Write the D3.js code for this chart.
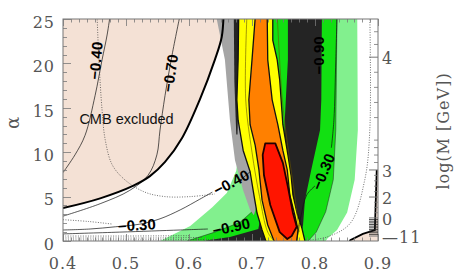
<!DOCTYPE html>
<html>
<head>
<meta charset="utf-8">
<script src="https://cdn.jsdelivr.net/npm/d3@7"></script>
<style>
body{margin:0;background:#fff}
svg{display:block}
</style>
</head>
<body>
<script>
// contour regions, [ns, alpha]
var cmbCurve = [[0.4,3.7],[0.459,4.8],[0.511,6.2],[0.538,7.3],[0.562,8.9],[0.589,11.6],[0.617,15.9],[0.641,20.4],[0.652,23.0],[0.655,26]]
var cmbRight = [[0.852,-0.5],[0.856,0.1],[0.876,0.8],[0.895,1.24],[0.898,8.0]]
var lightGreen = [[0.554,-0.5],[0.554,0],[0.602,1.7],[0.637,3.8],[0.660,5.4],[0.675,7.9],[0.681,11.4],[0.673,26],[0.867,26],[0.868,12.5],[0.863,6.9],[0.851,3.2],[0.835,1.24],[0.82,0.3],[0.812,-0.5]]
var brightGreen = [[0.597,-0.5],[0.597,0],[0.641,1.0],[0.681,2.1],[0.700,3.3],[0.710,5.7],[0.716,11.4],[0.719,26],[0.835,26],[0.833,12.5],[0.829,6.9],[0.817,3.3],[0.802,1.0],[0.789,0],[0.789,-0.5]]
var darkBand = [[0.757,26],[0.811,26],[0.810,15.9],[0.808,12.5],[0.794,8.0],[0.784,4.6],[0.781,1.8],[0.776,0],[0.776,-0.5],[0.622,-0.5],[0.622,0],[0.665,0.45],[0.710,1.35],[0.719,4.6],[0.751,10.2],[0.752,13.6],[0.757,20.4]]
var darkStrip = [[0.671,26],[0.681,26],[0.679,18],[0.677,12],[0.675,12],[0.672,18]]
var grayBand = [[0.644,26],[0.644,25],[0.657,20.4],[0.665,13.6],[0.673,9.1],[0.686,5.7],[0.697,3.5],[0.703,2.9],[0.710,4.6],[0.697,10.2],[0.684,15.9],[0.681,26]]
var yellow = [[0.679,26],[0.678,20.4],[0.676,15.9],[0.678,13.6],[0.686,10.2],[0.697,7.8],[0.703,5.2],[0.708,3.15],[0.716,1.24],[0.722,0],[0.722,-0.5],[0.784,-0.5],[0.784,0],[0.779,1.5],[0.771,3.3],[0.765,5.2],[0.762,7.4],[0.757,9.7],[0.749,13.1],[0.744,18.1],[0.740,20.4],[0.733,22.6],[0.733,26]]
var orange = [[0.706,26],[0.700,20.4],[0.695,15.9],[0.697,13.1],[0.705,10.8],[0.711,8.0],[0.716,4.6],[0.725,1.8],[0.735,0],[0.735,-0.5],[0.771,-0.5],[0.771,0],[0.773,1.24],[0.768,2.9],[0.760,5.2],[0.756,8.0],[0.749,10.2],[0.741,13.1],[0.732,15.9],[0.725,20.4],[0.724,26]]
var red = [[0.721,11.0],[0.737,11.0],[0.749,8.8],[0.757,6.1],[0.765,3.15],[0.771,1.6],[0.763,0.56],[0.756,0.23],[0.744,1.0],[0.729,4.05],[0.719,7.4],[0.717,9.7]]

// thin contour lines
var solidLines = [
  [[0.4,7.7],[0.419,9.7],[0.435,11.9],[0.451,16.4],[0.462,20.4],[0.470,23.2],[0.475,25.5]],
  [[0.4,2.8],[0.459,4.2],[0.506,5.7],[0.535,7.4],[0.549,9.7],[0.554,12.5],[0.562,16.4],[0.573,20.9],[0.586,25.5]],
  [[0.4,1.24],[0.443,1.35],[0.483,1.6],[0.522,1.9],[0.554,2.5],[0.586,3.5],[0.617,4.7],[0.637,5.5]],
  [[0.697,7.8],[0.684,7.0]],
  [[0.4,0.8],[0.49,1.0],[0.586,1.24],[0.630,1.35]],
  [[0.835,25.5],[0.833,20.4],[0.830,13.6],[0.826,10.5]],
  [[0.800,6.2],[0.787,5.2],[0.778,2.9],[0.771,0]]
]
var dottedLines = [
  [[0.454,25.5],[0.457,20.4],[0.462,14.75],[0.467,11.4],[0.478,8.6],[0.498,6.9],[0.530,5.5],[0.562,5.0],[0.602,5.0],[0.641,5.3]],
  [[0.4,2.4],[0.440,2.2],[0.479,1.9]],
  [[0.4,0.56],[0.50,0.56],[0.60,0.6]],
  [[0.4,0.34],[0.55,0.34],[0.62,0.4]],
  [[0.4,0.11],[0.65,0.15]],
  [[0.887,25.5],[0.887,12.5],[0.879,6.9],[0.856,2.0],[0.819,0.45],[0.792,0.11]]
]
var innerLines = [
  [[0.692,25.5],[0.690,16],[0.700,10],[0.712,5],[0.725,1],[0.735,0]],
  [[0.740,25.5],[0.748,16],[0.758,10],[0.768,5],[0.775,1]]
]
var labels = ["\u22120.40","\u22120.70","\u22120.40","\u22120.30","\u22120.90","\u22120.30","\u22120.90"]
var labelX = [0.452,0.570,0.667,0.517,0.667,0.813,0.806]
var labelY = [20.3,18.9,6.6,1.8,1.6,7.8,20.9]
var labelRot = [-85,-82,-28,-4,-12,-68,-90]

var xTicks = [0.4,0.5,0.6,0.7,0.8,0.9]
var yTicks = [0,5,10,15,20,25]
// right axis: log(M/GeV) against alpha
var logMKnots = [-11,0,2,3,3.5,4,4.3]
var logMAlpha = [0.56,2.6,4.95,8.0,12.2,20.7,25]
var logMLabels = [4,3,2,0,-11]
var logMMinor = [4.2,4.1,3.9,3.8,3.7,3.6,3.4,3.3,3.2,3.1,2.8,2.6,2.4,2.2,1.5,1,0.5,-1,-2,-3,-4,-5,-6,-7,-8,-9,-10]

var W=463,H=275
var L=63,R=378,T=19,B=241
var svg=d3.select("body").append("svg").attr("width",W).attr("height",H)
var x=d3.scaleLinear().domain([0.4,0.9]).range([L,R])
var y=d3.scaleLinear().domain([0,25]).range([B,T])
var m=d3.scaleLinear().domain(logMKnots).range(logMAlpha)

svg.append("clipPath").attr("id","clip").append("rect")
    .attr("x",L).attr("y",T).attr("width",R-L).attr("height",B-T)
var g=svg.append("g").attr("clip-path","url(#clip)")

var area=d3.line().x(function(d){return x(d[0])}).y(function(d){return y(d[1])}).curve(d3.curveCatmullRomClosed)
var poly=d3.line().x(function(d){return x(d[0])}).y(function(d){return y(d[1])}).curve(d3.curveLinearClosed)
var line=d3.line().x(function(d){return x(d[0])}).y(function(d){return y(d[1])}).curve(d3.curveCatmullRom)

// CMB excluded areas
g.append("path").attr("d",poly(cmbCurve.concat([[0.38,26],[0.38,3.5]]))).attr("fill","#f4e1d5")
g.append("path").attr("d",poly(cmbRight.concat([[0.92,8.0],[0.92,-1]]))).attr("fill","#f4e1d5")

function region(pts,fill,stroke,sw){
    g.append("path").attr("d",poly(pts)).attr("fill",fill)
        .attr("stroke",stroke||"none").attr("stroke-width",sw||0).attr("stroke-linejoin","round")
}
region(lightGreen,"#82f08e")
region(brightGreen,"#12e012","#222",0.5)
region(darkBand,"#242424")
region(grayBand,"#a5a5a5")
region(darkStrip,"#242424")
region(yellow,"#ffff00","#111",1.3)
region(orange,"#ff8000","#111",1.3)
region(red,"#ff1500","#220000",1.8)

innerLines.forEach(function(l){
    g.append("path").attr("d",line(l)).attr("fill","none").attr("stroke","#665500").attr("stroke-width",0.6)
})
solidLines.forEach(function(l){
    g.append("path").attr("d",line(l)).attr("fill","none").attr("stroke","#111").attr("stroke-width",0.7)
})
dottedLines.forEach(function(l){
    g.append("path").attr("d",line(l)).attr("fill","none").attr("stroke","#333").attr("stroke-width",0.7).attr("stroke-dasharray","1,1.5")
})
// thick CMB boundaries
g.append("path").attr("d",line(cmbCurve)).attr("fill","none").attr("stroke","#000").attr("stroke-width",2)
g.append("path").attr("d",d3.line().x(function(d){return x(d[0])}).y(function(d){return y(d[1])})(cmbRight)).attr("fill","none").attr("stroke","#000").attr("stroke-width",1.8)

g.append("text").attr("x",x(0.426)).attr("y",y(13.2)).text("CMB excluded")
    .attr("font-family","Liberation Sans, Arial, sans-serif").attr("font-size",14.5).attr("fill","#111")

labels.forEach(function(t,i){
    g.append("text").attr("transform","translate("+x(labelX[i])+","+y(labelY[i])+") rotate("+labelRot[i]+")")
        .attr("text-anchor","middle").attr("dy","0.36em")
        .attr("font-family","Liberation Sans, Arial, sans-serif").attr("font-weight","bold").attr("font-size",15)
        .attr("fill","#000").text(t)
})

// frame and ticks
var axc="#777"
svg.append("rect").attr("x",L).attr("y",T).attr("width",R-L).attr("height",B-T)
    .attr("fill","none").attr("stroke",axc).attr("stroke-width",1)
var xMinor=d3.range(0.4,0.9001,0.0125)
svg.selectAll(".xt").data(xMinor).enter().append("path")
    .attr("d",function(d){var big=Math.abs(d*10-Math.round(d*10))<1e-6;var len=big?7:3.5;var px=Math.round(x(d))+0.5
        return "M"+px+","+T+"v"+len+"M"+px+","+B+"v"+(-len)})
    .attr("stroke",axc).attr("stroke-width",0.8)
svg.selectAll(".yt").data(d3.range(0,26,1)).enter().append("path")
    .attr("d",function(d){var len=d%5===0?8:4;var py=Math.round(y(d))+0.5;return "M"+L+","+py+"h"+len})
    .attr("stroke",axc).attr("stroke-width",0.8)
svg.selectAll(".mt").data(logMMinor).enter().append("path")
    .attr("d",function(d){var py=y(m(d));return "M"+R+","+py+"h"+(d<0?-9:-4)})
    .attr("stroke",function(d){return d<0?"#222":axc}).attr("stroke-width",0.8)
svg.selectAll(".Mt").data(logMLabels).enter().append("path")
    .attr("d",function(d){var py=y(m(d));return "M"+R+","+py+"h-9"})
    .attr("stroke",axc).attr("stroke-width",1)

var tickFont="DejaVu Serif, Liberation Serif, serif"
svg.selectAll(".xl").data(xTicks).enter().append("text")
    .attr("x",function(d){return x(d)}).attr("y",269).attr("text-anchor","middle")
    .attr("font-family",tickFont).attr("font-size",16).attr("fill","#555").attr("letter-spacing",1)
    .text(function(d){return d3.format(".1f")(d)})
svg.selectAll(".yl").data(yTicks).enter().append("text")
    .attr("x",55).attr("y",function(d){return y(d)+3}).attr("dy","0.36em").attr("text-anchor","end")
    .attr("font-family",tickFont).attr("font-size",16).attr("fill","#555").attr("letter-spacing",1)
    .text(function(d){return d})
svg.selectAll(".ml").data(logMLabels).enter().append("text")
    .attr("x",382).attr("y",function(d){return y(m(d))+1}).attr("dy","0.36em")
    .attr("font-family",tickFont).attr("font-size",16).attr("fill","#555").attr("letter-spacing",1)
    .text(function(d){return d<0?"\u2014"+(-d):d})

svg.append("text").attr("transform","translate(13,123) rotate(-90)").attr("text-anchor","middle").attr("dy","0.36em")
    .attr("font-family",tickFont).attr("font-size",18).attr("fill","#555").text("\u03b1")
svg.append("text").attr("transform","translate(443,131) rotate(-90)").attr("text-anchor","middle").attr("dy","0.36em")
    .attr("font-family",tickFont).attr("font-size",16).attr("fill","#555").attr("letter-spacing",1).text("log(M [GeV])")
</script>
</body>
</html>
